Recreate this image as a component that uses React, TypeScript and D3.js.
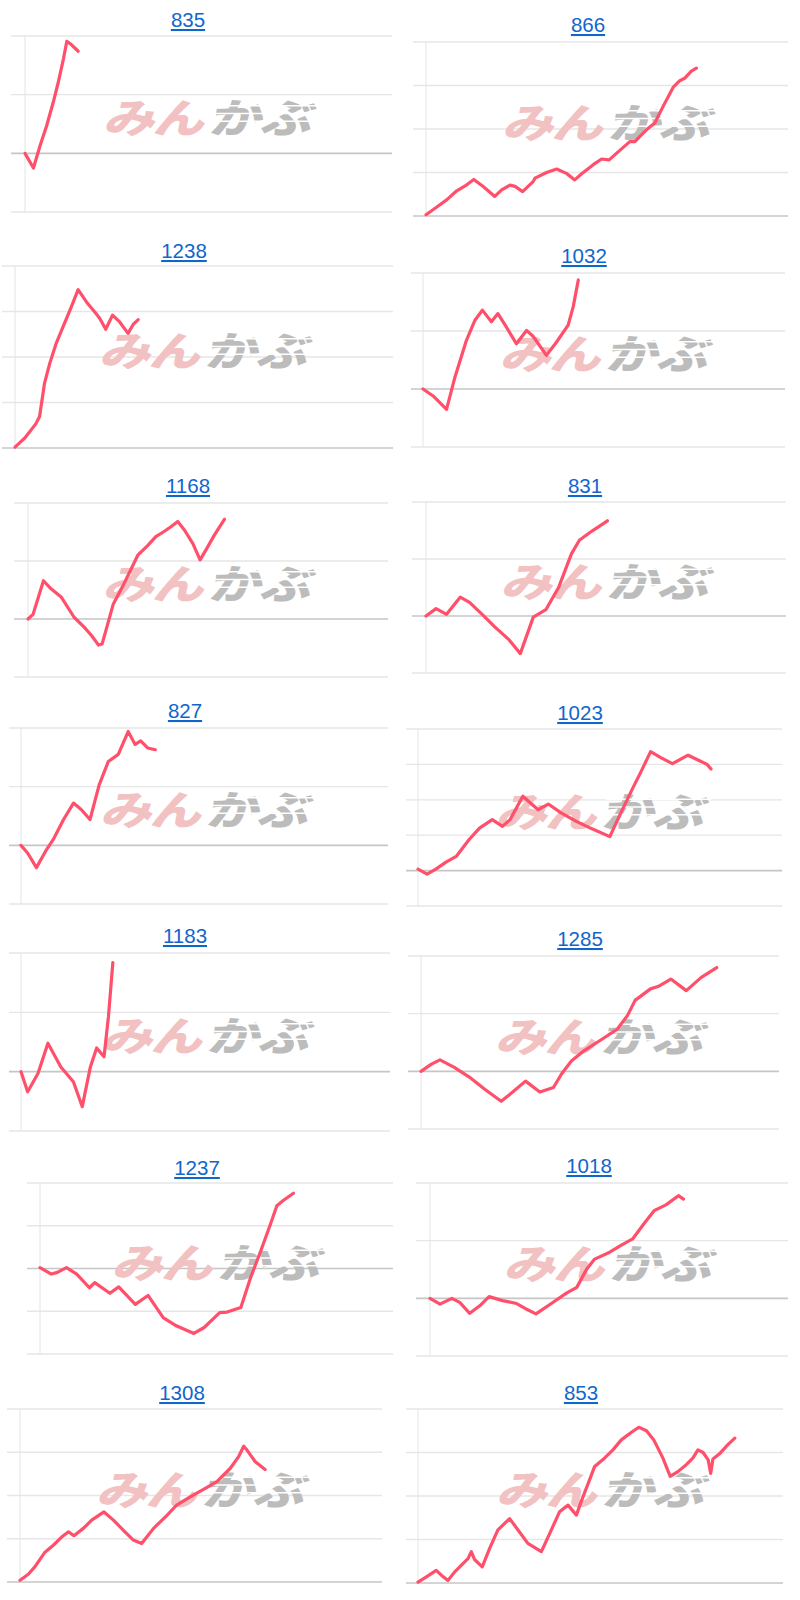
import React from 'react';
import * as d3 from 'd3';

type Pt = [number, number];

// Titles (link labels) of the 14 mini charts
const TITLES = ['835', '866', '1238', '1032', '1168', '831', '827', '1023', '1183', '1285', '1237', '1018', '1308', '853'];

// Series: [day (0..100 of x axis span), value in gridline units, 0 = baseline]
const S835: Pt[] = [[0, 0], [2.3, -0.25], [4.1, 0.13], [5.9, 0.47], [7.7, 0.87], [9.1, 1.22], [10.5, 1.62], [11.4, 1.91], [12.7, 1.85], [14.5, 1.74]];
const S866: Pt[] = [[0, 0.03], [2.9, 0.2], [5.7, 0.37], [8.5, 0.58], [10.8, 0.69], [13.2, 0.84], [15.8, 0.68], [19.0, 0.45], [20.9, 0.6], [23.2, 0.71], [24.6, 0.68], [26.7, 0.56], [28.2, 0.68], [29.6, 0.79], [30.1, 0.87], [33.3, 1.0], [36.1, 1.08], [38.8, 0.98], [41.1, 0.83], [43.0, 0.97], [46.2, 1.18], [48.5, 1.31], [50.6, 1.29], [52.6, 1.44], [56.3, 1.71], [57.7, 1.71], [59.1, 1.83], [61.4, 2.02], [63.2, 2.14], [65.5, 2.52], [68.3, 2.96], [70.1, 3.11], [71.5, 3.17], [73.3, 3.33], [74.7, 3.4]];
const S1238: Pt[] = [[0, 0.02], [2.6, 0.22], [5.5, 0.53], [6.5, 0.69], [7.8, 1.42], [9.2, 1.86], [10.9, 2.3], [12.7, 2.66], [14.9, 3.1], [16.7, 3.48], [18.9, 3.21], [21.1, 2.99], [22.4, 2.85], [24.0, 2.61], [25.8, 2.92], [27.7, 2.77], [29.9, 2.52], [31.3, 2.72], [32.6, 2.82]];
const S1032: Pt[] = [[0, 0], [2.8, -0.12], [6.5, -0.35], [8.8, 0.2], [12.0, 0.84], [14.3, 1.18], [16.4, 1.36], [18.9, 1.16], [20.7, 1.3], [23.0, 1.07], [25.8, 0.78], [28.6, 1.01], [30.4, 0.91], [34.1, 0.58], [36.9, 0.81], [40.1, 1.1], [41.5, 1.42], [42.9, 1.88]];
const S1168: Pt[] = [[0, 0], [1.4, 0.08], [4.3, 0.66], [6.4, 0.52], [9.2, 0.38], [12.8, 0.03], [15.6, -0.14], [17.7, -0.29], [19.6, -0.45], [20.6, -0.43], [23.7, 0.26], [26.2, 0.55], [30.5, 1.1], [33.3, 1.27], [35.5, 1.42], [37.6, 1.5], [39.7, 1.59], [41.6, 1.68], [43.5, 1.53], [45.8, 1.3], [47.8, 1.02], [49.6, 1.21], [51.8, 1.45], [54.6, 1.72]];
const S831: Pt[] = [[0, 0], [2.8, 0.13], [5.7, 0.03], [9.5, 0.33], [12.1, 0.24], [15.6, 0.03], [19.1, -0.19], [23.1, -0.42], [26.2, -0.66], [29.8, -0.02], [33.3, 0.11], [36.9, 0.51], [40.4, 1.09], [42.6, 1.33], [46.1, 1.49], [50.4, 1.67]];
const S827: Pt[] = [[0, 0], [1.8, -0.13], [4.2, -0.38], [6.7, -0.1], [8.8, 0.1], [11.6, 0.44], [14.3, 0.72], [16.4, 0.61], [18.8, 0.44], [21.3, 1.03], [23.8, 1.43], [26.5, 1.55], [29.2, 1.94], [31.1, 1.72], [32.6, 1.78], [34.5, 1.66], [36.6, 1.63]];
const S1023: Pt[] = [[0, 0.04], [2.5, -0.1], [4.9, 0.04], [7.7, 0.24], [10.5, 0.4], [14.0, 0.87], [16.9, 1.2], [20.4, 1.44], [23.2, 1.25], [25.3, 1.44], [28.8, 2.1], [33.0, 1.72], [35.8, 1.88], [39.3, 1.63], [43.5, 1.39], [47.8, 1.18], [52.7, 0.96], [55.5, 1.58], [59.0, 2.33], [61.1, 2.76], [63.9, 3.36], [66.7, 3.19], [69.9, 3.02], [74.2, 3.26], [77.2, 3.11], [79.4, 3.0], [80.5, 2.87]];
const S1183: Pt[] = [[0, 0], [1.8, -0.34], [4.6, -0.03], [7.3, 0.48], [10.8, 0.08], [14.2, -0.17], [16.6, -0.59], [18.8, 0.08], [20.5, 0.4], [22.5, 0.25], [23.7, 0.93], [24.9, 1.84]];
const S1285: Pt[] = [[0, 0], [2.8, 0.12], [5.3, 0.2], [9.3, 0.07], [13.5, -0.1], [17.8, -0.31], [22.4, -0.52], [25.6, -0.36], [29.2, -0.17], [33.2, -0.36], [37.0, -0.28], [39.2, -0.05], [42.0, 0.18], [45.6, 0.36], [49.9, 0.53], [54.8, 0.73], [57.7, 0.97], [59.8, 1.23], [64.1, 1.43], [66.2, 1.47], [69.8, 1.6], [74.1, 1.4], [78.3, 1.63], [82.6, 1.8]];
const S1237: Pt[] = [[0, 0.02], [3.2, -0.13], [4.9, -0.09], [7.5, 0.02], [10.4, -0.13], [14.0, -0.45], [15.5, -0.33], [19.8, -0.58], [22.3, -0.43], [27.0, -0.84], [30.6, -0.63], [34.9, -1.15], [38.6, -1.34], [43.6, -1.52], [46.5, -1.38], [50.9, -1.03], [53.0, -1.02], [56.9, -0.91], [59.5, -0.25], [62.4, 0.38], [65.3, 1.04], [67.1, 1.47], [68.9, 1.59], [71.8, 1.76]];
const S1018: Pt[] = [[0, 0], [2.8, -0.1], [6.1, 0], [8.3, -0.07], [11.1, -0.26], [13.9, -0.13], [16.5, 0.03], [20.3, -0.04], [24.2, -0.09], [26.7, -0.18], [29.6, -0.27], [33.9, -0.09], [38.1, 0.09], [41.0, 0.19], [43.8, 0.51], [46.0, 0.68], [50.2, 0.8], [53.1, 0.91], [56.6, 1.03], [59.7, 1.29], [62.6, 1.52], [65.9, 1.62], [69.4, 1.78], [70.8, 1.72]];
const S1308: Pt[] = [[0, 0.04], [2.3, 0.18], [4.1, 0.35], [6.9, 0.69], [9.2, 0.85], [11.5, 1.04], [13.4, 1.16], [14.9, 1.07], [17.5, 1.24], [19.8, 1.43], [23.2, 1.62], [25.8, 1.43], [29.0, 1.16], [31.3, 0.97], [33.6, 0.89], [36.9, 1.24], [40.6, 1.54], [43.3, 1.78], [47.0, 1.97], [50.7, 2.14], [54.4, 2.32], [58.1, 2.63], [60.4, 2.9], [61.8, 3.14], [62.7, 3.05], [65.0, 2.78], [67.7, 2.6]];
const S853: Pt[] = [[0, 0.02], [2.3, 0.14], [5.0, 0.29], [6.4, 0.18], [8.2, 0.06], [10.0, 0.25], [11.9, 0.41], [13.7, 0.56], [14.6, 0.72], [15.5, 0.54], [17.6, 0.37], [19.6, 0.79], [21.9, 1.22], [25.1, 1.48], [27.4, 1.22], [30.1, 0.91], [33.8, 0.72], [36.1, 1.14], [38.8, 1.64], [41.1, 1.79], [43.4, 1.56], [44.7, 1.87], [47.0, 2.37], [48.4, 2.68], [51.1, 2.87], [53.4, 3.06], [55.7, 3.29], [58.4, 3.46], [60.5, 3.58], [62.6, 3.5], [64.6, 3.29], [67.1, 2.87], [69.1, 2.45], [71.2, 2.56], [73.5, 2.72], [75.3, 2.87], [76.7, 3.06], [78.1, 3.0], [79.5, 2.83], [80.2, 2.52], [80.8, 2.85], [82.6, 2.97], [84.9, 3.18], [86.8, 3.33]];

const SERIES: Pt[][] = [S835, S866, S1238, S1032, S1168, S831, S827, S1023, S1183, S1285, S1237, S1018, S1308, S853];

// Gridline values (top to bottom) per chart
const GRID_VALUES: number[][] = [
  [2, 1, 0, -1], [4, 3, 2, 1, 0],
  [4, 3, 2, 1, 0], [2, 1, 0, -1],
  [2, 1, 0, -1], [2, 1, 0, -1],
  [2, 1, 0, -1], [4, 3, 2, 1, 0, -1],
  [2, 1, 0, -1], [2, 1, 0, -1],
  [2, 1, 0, -1, -2], [2, 1, 0, -1],
  [4, 3, 2, 1, 0], [4, 3, 2, 1, 0],
];

// Layout (pixel geometry) per chart
interface Box { tx: number; ty: number; left: number; axis: number; right: number; top: number; bottom: number; }
const LAYOUT: Box[] = [
  { tx: 188, ty: 27, left: 11, axis: 25, right: 392, top: 36, bottom: 212 },
  { tx: 588, ty: 32, left: 413, axis: 426, right: 788, top: 42, bottom: 216 },
  { tx: 184, ty: 258, left: 2, axis: 15, right: 393, top: 266, bottom: 448 },
  { tx: 584, ty: 263, left: 411, axis: 423, right: 785, top: 273, bottom: 447 },
  { tx: 188, ty: 493, left: 14, axis: 28, right: 388, top: 503, bottom: 677 },
  { tx: 585, ty: 493, left: 412, axis: 426, right: 786, top: 502, bottom: 673 },
  { tx: 185, ty: 718, left: 9, axis: 21, right: 388, top: 728, bottom: 904 },
  { tx: 580, ty: 720, left: 406, axis: 418, right: 782, top: 729, bottom: 906 },
  { tx: 185, ty: 943, left: 9, axis: 21, right: 390, top: 953, bottom: 1131 },
  { tx: 580, ty: 946, left: 408, axis: 421, right: 779, top: 956, bottom: 1129 },
  { tx: 197, ty: 1175, left: 27, axis: 40, right: 393, top: 1183, bottom: 1354 },
  { tx: 589, ty: 1173, left: 416, axis: 430, right: 788, top: 1183, bottom: 1356 },
  { tx: 182, ty: 1400, left: 7, axis: 20, right: 382, top: 1409, bottom: 1582 },
  { tx: 581, ty: 1400, left: 406, axis: 418, right: 783, top: 1409, bottom: 1583 },
];

const LINE_COLOR = '#ff4f6b';
const WM_FONT = "'Noto Sans CJK JP', 'Noto Sans CJK SC', sans-serif";

function Watermark({ cx, cy }: { cx: number; cy: number }) {
  const fs = 47;
  const stripes = [-13, -4, 5];
  return (
    <g transform={`translate(${cx},${cy}) skewX(-14) scale(1.1,0.86)`} style={{ pointerEvents: 'none' }}>
      <text x={-94} y={19} fontSize={fs} fontWeight={900} fill="#f2c1c1" letterSpacing={-2} fontFamily={WM_FONT}>みん</text>
      <text x={2} y={19} fontSize={fs} fontWeight={900} fill="#bcbcbc" letterSpacing={-1} fontFamily={WM_FONT}>かぶ</text>
      {stripes.map((s, i) => (
        <line key={i} x1={0} x2={96} y1={s} y2={s} stroke="#ffffff" strokeWidth={1.8} />
      ))}
    </g>
  );
}

function MiniChart({ idx }: { idx: number }) {
  const b = LAYOUT[idx];
  const gv = GRID_VALUES[idx];
  const data = SERIES[idx];
  const x = d3.scaleLinear().domain([0, 100]).range([b.axis, b.right]);
  const y = d3.scaleLinear().domain([d3.min(gv) as number, d3.max(gv) as number]).range([b.bottom, b.top]);
  const line = d3.line<Pt>().x(d => x(d[0])).y(d => y(d[1]));
  const cx = (b.left + b.right) / 2 + 9;
  const cy = (b.top + b.bottom) / 2 - 7;
  return (
    <g>
      <text x={b.tx} y={b.ty} textAnchor="middle" fontSize={20.5} fill="#1166cc"
        fontFamily="'Liberation Sans', Arial, sans-serif" textDecoration="underline">{TITLES[idx]}</text>
      {gv.map(v => (
        <line key={v} x1={b.left} x2={b.right} y1={y(v)} y2={y(v)}
          stroke={v === 0 ? '#c6c6c6' : '#e6e6e6'} strokeWidth={v === 0 ? 1.6 : 1.3} />
      ))}
      <line x1={b.axis} x2={b.axis} y1={b.top} y2={b.bottom} stroke="#e4e4e4" strokeWidth={1} />
      <Watermark cx={cx} cy={cy} />
      <path d={line(data) || ''} fill="none" stroke={LINE_COLOR} strokeWidth={3.2} strokeLinejoin="round" strokeLinecap="round" />
    </g>
  );
}

export default function App() {
  return (
    <svg width={800} height={1600} style={{ position: 'absolute', left: 0, top: 0, background: '#ffffff' }}>
      {TITLES.map((_, i) => <MiniChart key={i} idx={i} />)}
    </svg>
  );
}
